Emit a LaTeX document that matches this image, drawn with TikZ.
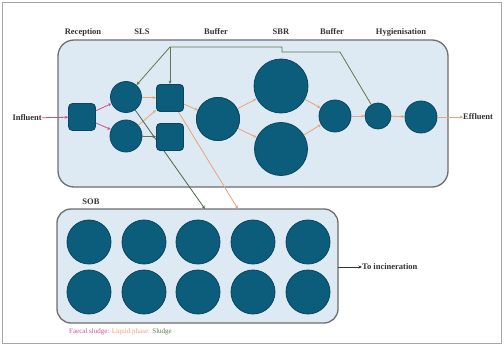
\documentclass[tikz,border=0pt]{standalone}
\usepackage{fontspec}
\setmainfont{Liberation Serif}
\usetikzlibrary{arrows.meta}
\definecolor{unitfill}{HTML}{0C5C7C}
\definecolor{unitdraw}{HTML}{0A4660}
\definecolor{boxfill}{HTML}{DDE9F3}
\definecolor{boxdraw}{HTML}{6E6E6E}
\definecolor{fsl}{HTML}{C9548C}
\definecolor{liq}{HTML}{E8A47A}
\definecolor{sld}{HTML}{5C7A50}
\definecolor{txt}{HTML}{333333}
\tikzset{
  unit/.style={circle, fill=unitfill, draw=unitdraw, line width=0.8pt, inner sep=0pt},
  sq/.style={rectangle, rounded corners=4pt, fill=unitfill, draw=unitdraw, line width=0.8pt, inner sep=0pt, minimum width=27pt, minimum height=27pt},
  container/.style={fill=boxfill, draw=boxdraw, line width=1.3pt},
  lbl/.style={font=\fontsize{8.5}{9}\selectfont\bfseries, text=txt, inner sep=0pt},
  tip/.style={-{Stealth[length=3.5pt,width=3pt]}},
  fflow/.style={draw=fsl, line width=0.8pt, tip},
  lflow/.style={draw=liq, line width=0.8pt, tip},
  sflow/.style={draw=sld, line width=0.8pt},
  sflowa/.style={draw=sld, line width=0.8pt, tip},
}
\begin{document}
\begin{tikzpicture}[x=1pt,y=-1pt]
\useasboundingbox (0,0) rectangle (504,353);
\fill[white] (0,0) rectangle (504,353);
\draw[draw=gray!70, line width=1pt] (2.5,2.5) rectangle (501.5,343);

% containers
\draw[container, rounded corners=16pt] (58,40) rectangle (448,187);
\draw[container, rounded corners=14pt] (57,209) rectangle (338,323);

% stage labels
\node[lbl] (lrec) at (83,32) {Reception};
\node[lbl] (lsls) at (142,32) {SLS};
\node[lbl] (lbuf) at (216,32) {Buffer};
\node[lbl] (lsbr) at (281,32) {SBR};
\node[lbl] (lbuf2) at (332,32) {Buffer};
\node[lbl] (lhyg) at (401,32) {Hygienisation};
\node[lbl] (lsob) at (91,202) {SOB};

% coordinates for free ends
\coordinate (sobinA) at (205,209);
\coordinate (sobinB) at (238,209);
\coordinate (gTopL) at (170,47);
\coordinate (gTopR) at (282,47);
\coordinate (gJoin) at (282,52);
\coordinate (gHyg) at (340,52);

\node[sq] (rec) at (82,117) {};
\node[unit, minimum size=31pt] (slsA) at (126,97) {};
\node[unit, minimum size=32pt] (slsB) at (126,136) {};
\node[sq] (sqA) at (170,98) {};
\node[sq] (sqB) at (170,137) {};
\node[unit, minimum size=43pt] (buf1) at (218,119) {};
\node[unit, minimum size=54pt] (sbrA) at (281,86) {};
\node[unit, minimum size=53pt] (sbrB) at (281,149) {};
\node[unit, minimum size=32pt] (buf2) at (335,116) {};
\node[unit, minimum size=26pt] (hyg) at (378,116) {};
\node[unit, minimum size=32pt] (last) at (421,117) {};

\foreach \i/\x in {1/89,2/144,3/198,4/253,5/308}{
  \node[unit, minimum size=44pt] (sobA\i) at (\x,242) {};
  \node[unit, minimum size=44pt] (sobB\i) at (\x,292) {};
}

% external labels
\node[lbl, anchor=east] (infl) at (42,118) {Influent};
\node[lbl, anchor=west] (effl) at (463,117) {Effluent};
\node[lbl, anchor=west] (incin) at (362,267) {To incineration};
\coordinate (sobout) at (338,267);

% connectors
\draw[fflow] (infl) -- (rec);
\draw[fflow] (rec) -- (slsA);
\draw[fflow] (rec) -- (slsB);

\draw[lflow] (slsA) -- (sqA);
\draw[lflow] (slsB) -- (sqA);
\draw[sflowa] (slsB) -- (sqB);
\draw[sflowa, draw=sld!85!black] (slsA) -- (sobinA);
\draw[lflow] (sqA) -- (sobinB);
\draw[lflow] (sqA) -- (buf1);
\draw[lflow] (buf1) -- (sbrA);
\draw[lflow] (buf1) -- (sbrB);
\draw[lflow] (sbrA) -- (buf2);
\draw[lflow] (sbrB) -- (buf2);
\draw[lflow] (buf2) -- (hyg);
\draw[lflow] (hyg) -- (last);
\draw[lflow] (last) -- (effl);

\draw[sflow] (hyg) -- (gHyg) -- (gJoin) -- (gTopR) -- (gTopL);
\draw[sflowa] (gTopL) -- (sqA);
\draw[sflowa] (gTopL) -- (slsA);

\draw[draw=txt, line width=0.8pt, tip] (sobout) -- (incin);

% redraw squares on top of crossing lines
\node[sq] at (sqA) {};
\node[sq] at (sqB) {};
\node[unit, minimum size=43pt] at (buf1) {};

% legend
\node[anchor=west, inner sep=0pt, font=\fontsize{7}{8}\selectfont] (legend) at (69,332)
  {\textcolor{fsl}{Faecal sludge:} \textcolor{liq}{Liquid phase:} \textcolor{sld}{Sludge}};
\end{tikzpicture}
\end{document}
